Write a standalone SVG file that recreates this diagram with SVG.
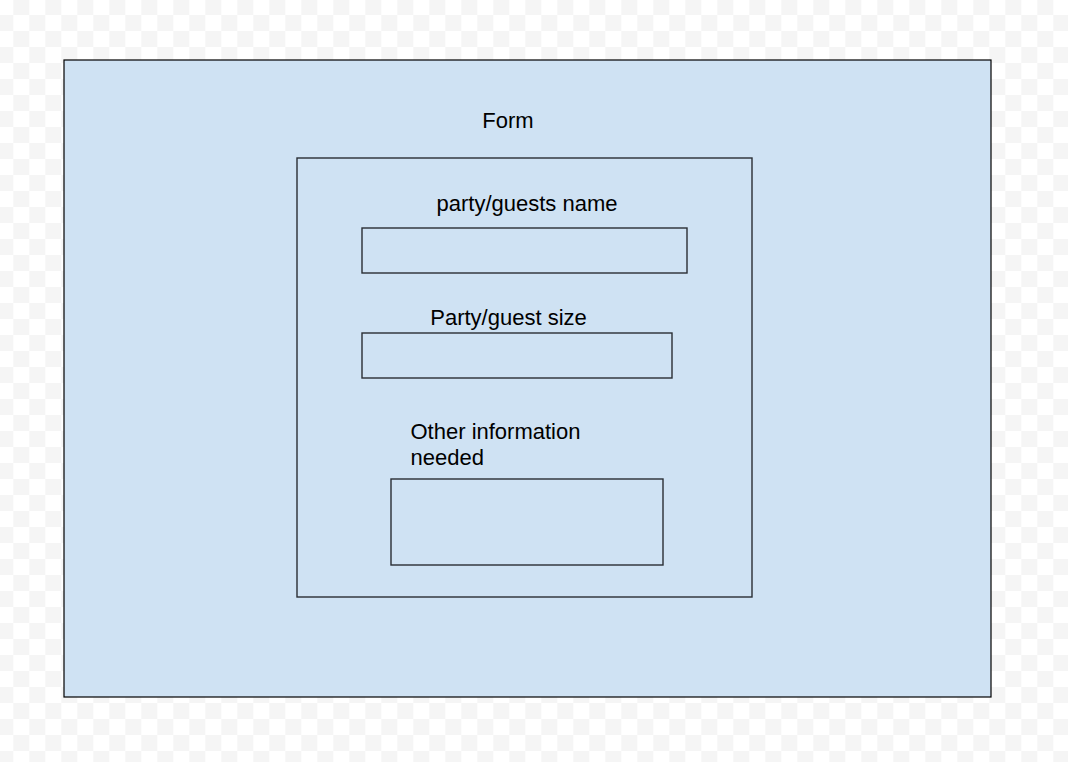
<svg xmlns="http://www.w3.org/2000/svg" width="1068" height="762" viewBox="0 0 1068 762">
  <defs>
    <pattern id="checker" x="-2.7" y="-1" width="32" height="32" patternUnits="userSpaceOnUse">
      <rect x="0" y="0" width="32" height="32" fill="#ffffff"/>
      <rect x="16" y="0" width="16" height="16" fill="#f5f5f5"/>
      <rect x="0" y="16" width="16" height="16" fill="#f5f5f5"/>
    </pattern>
  </defs>
  <style>
    .box { fill: #cfe2f3; stroke: #000000; stroke-width: 1.2; }
    .inner { fill: none; stroke: #2a2e33; stroke-width: 1.4; }
    .label { font-family: "Liberation Sans", Arial, sans-serif; font-size: 22px; fill: #000000; }
  </style>
  <rect x="0" y="0" width="1068" height="762" fill="url(#checker)"/>
  <g id="form">
    <rect class="box" x="64" y="60" width="927" height="637"/>
    <text class="label" x="508" y="128" text-anchor="middle">Form</text>
  </g>
  <g id="form-panel">
    <rect class="inner" x="297" y="158" width="455" height="439"/>
  </g>
  <g id="field-name">
    <text class="label" x="527" y="211" text-anchor="middle">party/guests name</text>
    <rect class="inner" x="362" y="228" width="325" height="45"/>
  </g>
  <g id="field-size">
    <text class="label" x="508.5" y="325" text-anchor="middle">Party/guest size</text>
    <rect class="inner" x="362" y="333" width="310" height="45"/>
  </g>
  <g id="field-other">
    <text class="label" x="410.5" y="438.5">Other information</text>
    <text class="label" x="410.5" y="464.5">needed</text>
    <rect class="inner" x="391" y="479" width="272" height="86"/>
  </g>
  <g id="connectors"/>
</svg>
